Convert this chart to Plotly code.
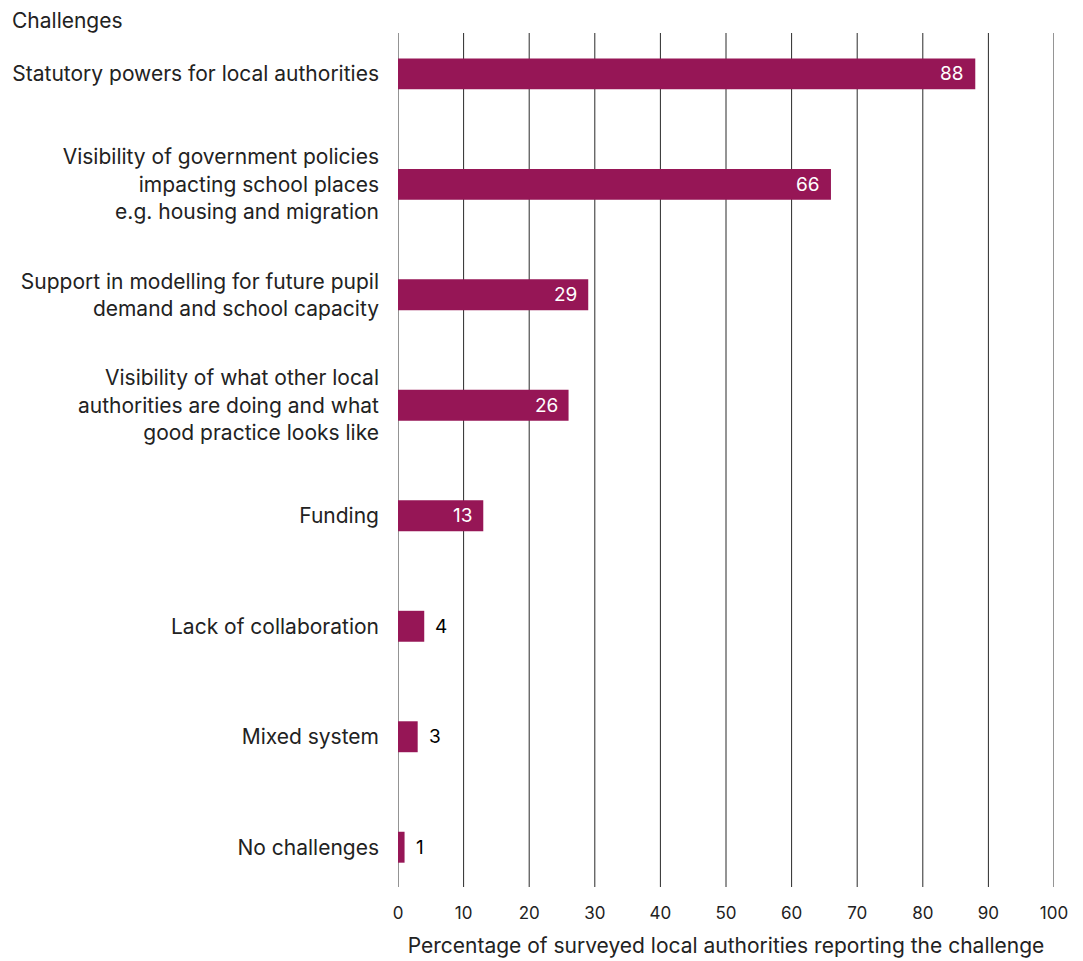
import plotly.graph_objects as go

# Survey results: share of local authorities reporting each challenge
challenges = [
    "Statutory powers for local authorities",
    "Visibility of government policies<br>impacting school places<br>e.g. housing and migration",
    "Support in modelling for future pupil<br>demand and school capacity",
    "Visibility of what other local<br>authorities are doing and what<br>good practice looks like",
    "Funding",
    "Lack of collaboration",
    "Mixed system",
    "No challenges",
]
percentages = [88, 66, 29, 26, 13, 4, 3, 1]
x_ticks = [0, 10, 20, 30, 40, 50, 60, 70, 80, 90, 100]

BAR_COLOR = "#961656"
TEXT_COLOR = "#222222"
FONT = "Inter, Liberation Sans, Arial, sans-serif"

L, R, T, B = 398, 29, 33, 74
W, H = 1083, 961
PW, PH = W - L - R, H - T - B

fig = go.Figure()
fig.add_trace(go.Bar(
    x=percentages,
    y=challenges,
    orientation="h",
    marker=dict(color=BAR_COLOR, line=dict(width=0)),
    width=0.28,
    hoverinfo="x+y",
))

# Vertical grid lines at every tick, including both ends of the axis
for t in x_ticks:
    fig.add_shape(type="line", xref="x", yref="paper", x0=t, x1=t, y0=0, y1=1,
                  line=dict(color="#2a2a2a", width=1), layer="below")

# Value labels: white inside long bars, dark beside short ones
for cat, val in zip(challenges, percentages):
    inside = val >= 10
    fig.add_annotation(
        x=val, y=cat, xref="x", yref="y",
        text=str(val), showarrow=False,
        xanchor="right" if inside else "left",
        xshift=-9 if inside else 9,
        font=dict(family=FONT, size=19, color="white" if inside else "black"),
    )

fig.add_annotation(
    x=(10 - L) / PW, y=1 + (T - 21) / PH, xref="paper", yref="paper",
    xanchor="left", yanchor="middle",
    text="Challenges", showarrow=False,
    font=dict(family=FONT, size=21, color=TEXT_COLOR),
)

fig.update_layout(
    width=W, height=H,
    margin=dict(l=L, r=R, t=T, b=B, autoexpand=False),
    paper_bgcolor="white", plot_bgcolor="white",
    showlegend=False,
    font=dict(family=FONT, color=TEXT_COLOR),
    xaxis=dict(
        range=[0, 100], tickvals=x_ticks, ticktext=[str(t) for t in x_ticks],
        showgrid=False, zeroline=False, showline=False,
        ticks="", tickfont=dict(family=FONT, size=17, color=TEXT_COLOR),
        ticklabelstandoff=14,
        title=dict(text="Percentage of surveyed local authorities reporting the challenge",
                   font=dict(family=FONT, size=21, color=TEXT_COLOR), standoff=16),
        automargin=False,
        fixedrange=True,
    ),
    yaxis=dict(
        categoryorder="array", categoryarray=challenges,
        range=[7.36, -0.37],
        showgrid=False, zeroline=False, showline=False, ticks="",
        tickfont=dict(family=FONT, size=21, color=TEXT_COLOR),
        ticklabelstandoff=18,
        automargin=False,
        fixedrange=True,
    ),
)

fig.write_html("out.html")
